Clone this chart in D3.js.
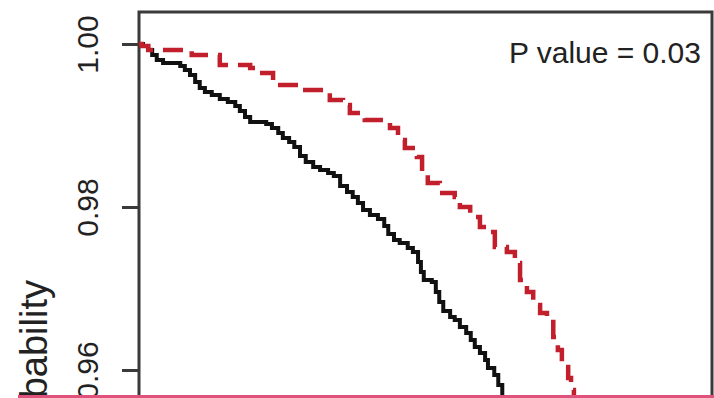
<!DOCTYPE html>
<html>
<head>
<meta charset="utf-8">
<script src="https://cdn.jsdelivr.net/npm/d3@7"></script>
<style>
  html, body { margin: 0; padding: 0; background: #fff; }
  svg { display: block; font-family: "Liberation Sans", Arial, sans-serif; }
</style>
</head>
<body>
<div id="chart"></div>
<script>
// Kaplan-Meier style step curves (time in years, survival probability)
const blackTimes = [0, 0.07, 0.16, 0.23, 0.31, 0.42, 0.72, 0.80, 0.89, 0.98, 1.06, 1.15, 1.27, 1.41, 1.55, 1.68, 1.76, 1.85, 1.94,
  2.22, 2.32, 2.43, 2.51, 2.62, 2.71, 2.81, 2.91, 3.04, 3.16, 3.30, 3.40, 3.51, 3.63, 3.73, 3.82, 3.91, 4.03, 4.17, 4.28, 4.35,
  4.45, 4.55, 4.69, 4.78, 4.87, 4.92, 4.97, 5.11, 5.18, 5.24, 5.31, 5.43, 5.51, 5.60, 5.71, 5.79, 5.86, 5.95, 6.04, 6.09, 6.20,
  6.27, 6.34, 6.40];
const blackSurv = [1.0, 0.99975, 0.99926, 0.99865, 0.99804, 0.99767, 0.99730, 0.99681, 0.99620, 0.99534, 0.99460, 0.99411,
  0.99374, 0.99325, 0.99288, 0.99239, 0.99178, 0.99104, 0.99043, 0.99018, 0.98969, 0.98908, 0.98847, 0.98798, 0.98736,
  0.98626, 0.98552, 0.98491, 0.98454, 0.98417, 0.98380, 0.98258, 0.98184, 0.98123, 0.98049, 0.97963, 0.97902, 0.97853,
  0.97767, 0.97669, 0.97595, 0.97558, 0.97497, 0.97448, 0.97325, 0.97202, 0.97104, 0.97080, 0.96957, 0.96834, 0.96724,
  0.96650, 0.96613, 0.96528, 0.96454, 0.96368, 0.96282, 0.96209, 0.96123, 0.96025, 0.95939, 0.95816, 0.95656, 0.95500];

const redTimes = [0, 0.05, 0.16, 0.92, 1.41, 1.94, 2.11, 2.34, 2.81, 3.33, 3.56, 3.68, 3.94, 4.38, 4.52, 4.64, 4.85, 4.94,
  5.04, 5.25, 5.51, 5.60, 5.78, 5.95, 6.13, 6.21, 6.42, 6.56, 6.65, 6.77, 6.88, 7.00, 7.12, 7.23, 7.31, 7.38, 7.49, 7.54, 7.59];
const redSurv = [1.0, 0.99975, 0.99926, 0.99865, 0.99742, 0.99706, 0.99644, 0.99497, 0.99436, 0.99313, 0.99252, 0.99153,
  0.99067, 0.98969, 0.98822, 0.98724, 0.98613, 0.98417, 0.98294, 0.98172, 0.98123, 0.98000, 0.97877, 0.97755, 0.97693,
  0.97509, 0.97448, 0.97313, 0.97104, 0.96957, 0.96798, 0.96699, 0.96589, 0.96405, 0.96245, 0.96037, 0.95902, 0.95755, 0.95607];

const yTicks = [0.96, 0.98, 1.00];
const yTickLabels = ['0.96', '0.98', '1.00'];
const yAxisLabel = 'Survival probability';
const pValueText = 'P value = 0.03';

const width = 714;
const height = 398;

const svg = d3.select('#chart')
  .append('svg')
  .attr('width', width)
  .attr('height', height);

// Scales: the plot region is cropped, only the upper part is visible
const x = d3.scaleLinear().domain([0, 10]).range([139, 712]);
const y = d3.scaleLinear().domain([0.96, 1.00]).range([370, 44]);
const yTop = y.invert(12);

// Plot box (left, top and right edges)
svg.append('path')
  .attr('d', `M${x(0)},${height + 5}V${y(yTop)}H${x(10)}V${height + 5}`)
  .attr('fill', 'none')
  .attr('stroke', '#3a3a3a')
  .attr('stroke-width', 3);

// Left axis ticks and labels
const axis = d3.axisLeft(y)
  .tickValues(yTicks)
  .tickSize(17)
  .tickFormat((d, i) => yTickLabels[i]);

const gAxis = svg.append('g')
  .attr('transform', `translate(${x(0)},0)`)
  .call(axis);
gAxis.select('.domain').remove();
gAxis.selectAll('line').attr('stroke', '#3a3a3a').attr('stroke-width', 3);
// tick groups already sit at y(d); only shift labels left and rotate them
gAxis.selectAll('text')
  .attr('transform', `translate(${98 - x(0)},0) rotate(-90)`)
  .attr('x', 0)
  .attr('y', 0)
  .attr('dy', 0)
  .attr('text-anchor', 'middle')
  .style('font-family', '"Liberation Sans", Arial, sans-serif')
  .style('font-size', '30px')
  .attr('fill', '#222');

// Y axis title
svg.append('text')
  .attr('transform', `translate(47,280) rotate(-90)`)
  .attr('text-anchor', 'end')
  .style('font-size', '38px')
  .attr('fill', '#222')
  .text(yAxisLabel);

// Curves
const line = d3.line()
  .x(d => x(d[0]))
  .y(d => y(d[1]))
  .curve(d3.curveStepAfter);

svg.append('path')
  .datum(d3.zip(blackTimes, blackSurv))
  .attr('d', line)
  .attr('fill', 'none')
  .attr('stroke', '#111')
  .attr('stroke-width', 4);

svg.append('path')
  .datum(d3.zip(redTimes, redSurv))
  .attr('d', line)
  .attr('fill', 'none')
  .attr('stroke', '#c21f2c')
  .attr('stroke-width', 4.5)
  .attr('stroke-dasharray', '20,10');

// P value annotation
svg.append('text')
  .attr('x', 701)
  .attr('y', 63)
  .attr('text-anchor', 'end')
  .style('font-size', '30px')
  .attr('fill', '#222')
  .text(pValueText);

// Pink separator at the bottom edge
svg.append('rect')
  .attr('x', 18)
  .attr('y', 395)
  .attr('width', width - 18)
  .attr('height', 3)
  .attr('fill', '#e0517c');
</script>
</body>
</html>
